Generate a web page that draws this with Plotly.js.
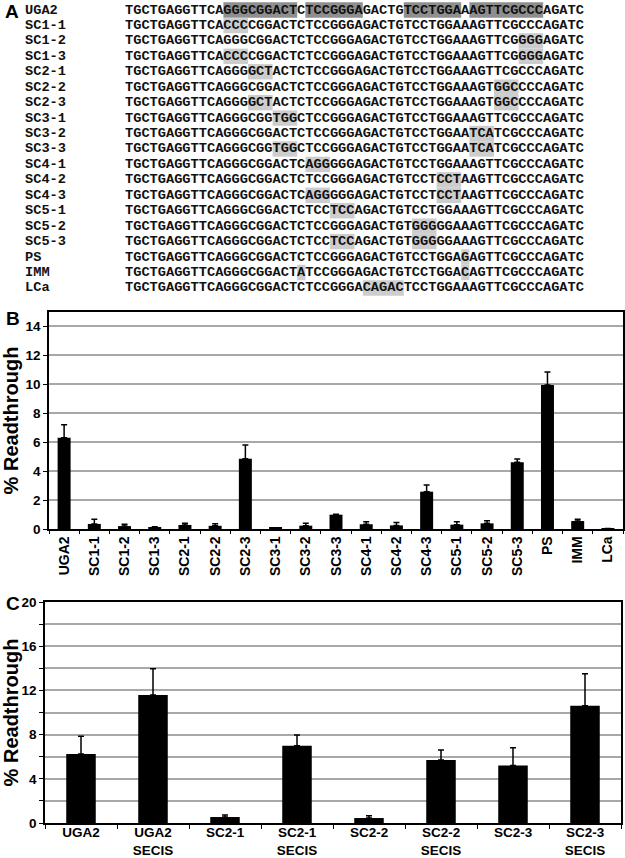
<!DOCTYPE html>
<html>
<head>
<meta charset="utf-8">
<script src="https://cdn.plot.ly/plotly-3.0.1.min.js"></script>
<style>
  html, body { margin: 0; padding: 0; background: #ffffff; }
  #fig { width: 625px; height: 858px; }
</style>
</head>
<body>
<div id="fig"></div>
<script>
// panel A: sequences
const rowNames = ['UGA2', 'SC1-1', 'SC1-2', 'SC1-3', 'SC2-1', 'SC2-2', 'SC2-3', 'SC3-1', 'SC3-2', 'SC3-3',
    'SC4-1', 'SC4-2', 'SC4-3', 'SC5-1', 'SC5-2', 'SC5-3', 'PS', 'IMM', 'LCa'];
const sequences = [
    'TGCTGAGGTTCAGGGCGGACTCTCCGGGAGACTGTCCTGGAAAGTTCGCCCAGATC',
    'TGCTGAGGTTCACCCCGGACTCTCCGGGAGACTGTCCTGGAAAGTTCGCCCAGATC',
    'TGCTGAGGTTCAGGGCGGACTCTCCGGGAGACTGTCCTGGAAAGTTCGGGGAGATC',
    'TGCTGAGGTTCACCCCGGACTCTCCGGGAGACTGTCCTGGAAAGTTCGGGGAGATC',
    'TGCTGAGGTTCAGGGGCTACTCTCCGGGAGACTGTCCTGGAAAGTTCGCCCAGATC',
    'TGCTGAGGTTCAGGGCGGACTCTCCGGGAGACTGTCCTGGAAAGTGGCCCCAGATC',
    'TGCTGAGGTTCAGGGGCTACTCTCCGGGAGACTGTCCTGGAAAGTGGCCCCAGATC',
    'TGCTGAGGTTCAGGGCGGTGGCTCCGGGAGACTGTCCTGGAAAGTTCGCCCAGATC',
    'TGCTGAGGTTCAGGGCGGACTCTCCGGGAGACTGTCCTGGAATCATCGCCCAGATC',
    'TGCTGAGGTTCAGGGCGGTGGCTCCGGGAGACTGTCCTGGAATCATCGCCCAGATC',
    'TGCTGAGGTTCAGGGCGGACTCAGGGGGAGACTGTCCTGGAAAGTTCGCCCAGATC',
    'TGCTGAGGTTCAGGGCGGACTCTCCGGGAGACTGTCCTCCTAAGTTCGCCCAGATC',
    'TGCTGAGGTTCAGGGCGGACTCAGGGGGAGACTGTCCTCCTAAGTTCGCCCAGATC',
    'TGCTGAGGTTCAGGGCGGACTCTCCTCCAGACTGTCCTGGAAAGTTCGCCCAGATC',
    'TGCTGAGGTTCAGGGCGGACTCTCCGGGAGACTGTGGGGGAAAGTTCGCCCAGATC',
    'TGCTGAGGTTCAGGGCGGACTCTCCTCCAGACTGTGGGGGAAAGTTCGCCCAGATC',
    'TGCTGAGGTTCAGGGCGGACTCTCCGGGAGACTGTCCTGGAGAGTTCGCCCAGATC',
    'TGCTGAGGTTCAGGGCGGACTATCCGGGAGACTGTCCTGGACAGTTCGCCCAGATC',
    'TGCTGAGGTTCAGGGCGGACTCTCCGGGACAGACTCCTGGAAAGTTCGCCCAGATC'
];
// [first base, number of bases] shaded in each row
const highlights = [
    [[12, 9], [22, 7], [34, 7], [42, 9]],
    [[12, 3]], [[48, 3]], [[12, 3], [48, 3]],
    [[15, 3]], [[45, 3]], [[15, 3], [45, 3]],
    [[18, 3]], [[42, 3]], [[18, 3], [42, 3]],
    [[22, 3]], [[38, 3]], [[22, 3], [38, 3]],
    [[25, 3]], [[35, 3]], [[25, 3], [35, 3]],
    [[41, 1]], [[21, 1], [41, 1]], [[29, 5]]
];

// panel B
const labelsB = ['UGA2', 'SC1-1', 'SC1-2', 'SC1-3', 'SC2-1', 'SC2-2', 'SC2-3', 'SC3-1', 'SC3-2', 'SC3-3',
    'SC4-1', 'SC4-2', 'SC4-3', 'SC5-1', 'SC5-2', 'SC5-3', 'PS', 'IMM', 'LCa'];
const readB = [6.3, 0.35, 0.2, 0.1, 0.28, 0.22, 4.85, 0.07, 0.23, 0.99, 0.33, 0.25, 2.58, 0.3, 0.39, 4.62, 9.95, 0.55, 0.03];
const errB = [0.9, 0.32, 0.13, 0.06, 0.12, 0.14, 0.95, 0.02, 0.16, 0.03, 0.17, 0.2, 0.46, 0.2, 0.18, 0.22, 0.9, 0.12, 0];

// panel C
const labelsC = ['UGA2', 'UGA2<br>SECIS', 'SC2-1', 'SC2-1<br>SECIS', 'SC2-2', 'SC2-2<br>SECIS', 'SC2-3', 'SC2-3<br>SECIS'];
const readC = [6.24, 11.58, 0.54, 7.0, 0.45, 5.7, 5.2, 10.6];
const errC = [1.6, 2.38, 0.18, 0.96, 0.21, 0.9, 1.6, 2.9];

const sans = 'Liberation Sans, Arial, sans-serif';
const mono = 'Liberation Mono, Courier New, monospace';
const gridColor = '#a8a8a8';

const seqFont = { family: mono, size: 13.67, color: '#111111', weight: 'bold' };

const annotations = [];
const shapes = [];
rowNames.forEach((name, i) => {
    annotations.push({
        xref: 'x3', yref: 'y3', x: -12.2, y: i, text: name,
        xanchor: 'left', yanchor: 'middle', showarrow: false,
        borderpad: 0, borderwidth: 0, font: seqFont
    });
    annotations.push({
        xref: 'x3', yref: 'y3', x: 0, y: i, text: sequences[i],
        xanchor: 'left', yanchor: 'middle', showarrow: false,
        borderpad: 0, borderwidth: 0, font: seqFont
    });
    highlights[i].forEach(([start, len]) => {
        shapes.push({
            type: 'rect', xref: 'x3', yref: 'y3', layer: 'below',
            x0: start, x1: start + len, y0: i - 0.5, y1: i + 0.5,
            fillcolor: i === 0 ? '#8e8e8e' : '#cdcdcd', line: { width: 0 }
        });
    });
});

const panelFont = { family: sans, size: 19, color: '#000000', weight: 'bold' };
annotations.push(
    { xref: 'paper', yref: 'paper', x: 0.004, y: 1 - 12 / 858, text: 'A', showarrow: false, xanchor: 'left', yanchor: 'middle', font: panelFont },
    { xref: 'paper', yref: 'paper', x: 0.006, y: 1 - 318 / 858, text: 'B', showarrow: false, xanchor: 'left', yanchor: 'middle', font: panelFont },
    { xref: 'paper', yref: 'paper', x: 0.006, y: 1 - 603 / 858, text: 'C', showarrow: false, xanchor: 'left', yanchor: 'middle', font: panelFont }
);

const errStyle = (arr) => ({
    type: 'data', symmetric: false, array: arr, arrayminus: arr.map(() => 0),
    color: '#000000', thickness: 1.5, width: 3
});

const traces = [
    {
        type: 'bar', x: labelsB, y: readB, xaxis: 'x', yaxis: 'y',
        marker: { color: '#000000' }, width: 0.43,
        error_y: errStyle(errB), showlegend: false, hoverinfo: 'x+y'
    },
    {
        type: 'bar', x: labelsC, y: readC, xaxis: 'x2', yaxis: 'y2',
        marker: { color: '#000000' }, width: 0.41,
        error_y: errStyle(errC), showlegend: false, hoverinfo: 'y'
    }
];

const tickFont = { family: sans, size: 13.5, color: '#000000', weight: 'bold' };
const titleFont = { family: sans, size: 20, color: '#000000', weight: 'bold' };

const layout = {
    width: 625,
    height: 858,
    margin: { l: 0, r: 0, t: 0, b: 0 },
    paper_bgcolor: '#ffffff',
    plot_bgcolor: '#ffffff',
    xaxis: {
        domain: [49 / 625, 623 / 625], anchor: 'y',
        type: 'category', tickangle: -90, tickfont: { family: sans, size: 14, color: '#000000', weight: 'bold' },
        showline: true, linecolor: '#000000', linewidth: 1.5, mirror: true,
        ticks: 'outside', ticklen: 3, tickson: 'boundaries', tickcolor: '#000000',
        showgrid: false, fixedrange: true
    },
    yaxis: {
        domain: [1 - 529 / 858, 1 - 312 / 858], anchor: 'x',
        range: [0, 15], dtick: 2, tick0: 0, tickfont: tickFont,
        showline: true, linecolor: '#000000', linewidth: 1.5, mirror: true,
        ticks: 'outside', ticklen: 4, tickcolor: '#000000',
        showgrid: true, gridcolor: gridColor, gridwidth: 1.5, zeroline: false,
        title: { text: '% Readthrough', font: titleFont, standoff: 4 },
        fixedrange: true
    },
    xaxis2: {
        domain: [45 / 625, 621 / 625], anchor: 'y2',
        type: 'category', tickangle: 0, tickfont: { family: sans, size: 13.5, color: '#000000', weight: 'bold' },
        showline: true, linecolor: '#000000', linewidth: 1.5, mirror: true,
        ticks: 'outside', ticklen: 4, tickson: 'boundaries', tickcolor: '#000000',
        ticklabelstandoff: -4,
        showgrid: false, fixedrange: true
    },
    yaxis2: {
        domain: [1 - 823 / 858, 1 - 602 / 858], anchor: 'x2',
        range: [0, 20], dtick: 4, tick0: 0, tickfont: tickFont,
        showline: true, linecolor: '#000000', linewidth: 1.5, mirror: true,
        ticks: 'outside', ticklen: 4, tickcolor: '#000000',
        showgrid: true, gridcolor: gridColor, gridwidth: 1.5, zeroline: false,
        minor: { dtick: 2, showgrid: true, gridcolor: gridColor, gridwidth: 1.5, ticks: 'outside', ticklen: 4, tickcolor: '#000000' },
        title: { text: '% Readthrough', font: titleFont, standoff: 4 },
        fixedrange: true
    },
    xaxis3: {
        domain: [0, 1], anchor: 'y3', range: [-125 / 8.2, 500 / 8.2],
        visible: false, showgrid: false, zeroline: false, fixedrange: true
    },
    yaxis3: {
        domain: [1 - 300 / 858, 1], anchor: 'x3', range: [290 / 15.44, -10 / 15.44],
        visible: false, showgrid: false, zeroline: false, fixedrange: true
    },
    annotations: annotations,
    shapes: shapes
};

Plotly.newPlot('fig', traces, layout, { displayModeBar: false, responsive: false });
</script>
</body>
</html>
